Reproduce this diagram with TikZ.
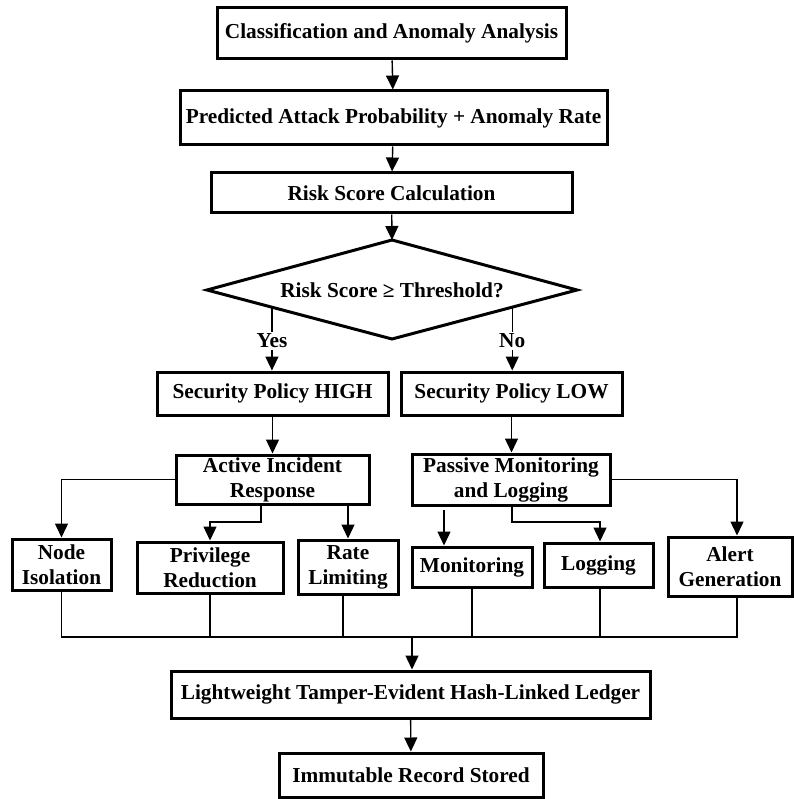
\documentclass[tikz,border=0pt]{standalone}
\usepackage{fontspec}
\setmainfont{Liberation Serif}
\usetikzlibrary{arrows.meta,calc}
\begin{document}
\begin{tikzpicture}[x=1pt,y=-1pt,
  font=\fontsize{21.3}{25}\selectfont\bfseries,
  box/.style={draw, line width=3pt, align=center, inner sep=0pt},
  link/.style={line width=1.4pt},
  arr/.style={link, -{Triangle[length=14pt,width=13pt]}},
  lbl/.style={fill=white, inner sep=2pt}]
\useasboundingbox (0,0) rectangle (793,799);

% main chain
\node[box, minimum width=349, minimum height=51] (cls) at (391.5,33.5) {Classification and Anomaly Analysis};
\node[box, minimum width=427, minimum height=54] (pred) at (393.5,118) {Predicted Attack Probability + Anomaly Rate};
\node[box, minimum width=361, minimum height=40] (risk) at (391.5,193) {Risk Score Calculation};

% decision diamond
\coordinate (dT) at (392,240);
\coordinate (dR) at (577,290);
\coordinate (dB) at (392,339);
\coordinate (dL) at (207,290);
\draw[line width=3pt, line join=miter] (dT) -- (dR) -- (dB) -- (dL) -- cycle;
\node[align=center] (dec) at (392,290) {Risk Score ≥ Threshold?};
\coordinate (yesfrom) at ($(dL)!0.351!(dB)$);
\coordinate (nofrom) at ($(dR)!0.35!(dB)$);

% policies
\node[box, minimum width=231, minimum height=43] (high) at (272.5,393.5) {Security Policy HIGH};
\node[box, minimum width=221, minimum height=43] (low) at (511.5,393.5) {Security Policy LOW};

% responses
\node[box, minimum width=193, minimum height=49] (act) at (272.5,479.5) {Active Incident\\Response};
\node[box, minimum width=198, minimum height=51] (pas) at (511,479.5) {Passive Monitoring\\and Logging};

% actions
\node[box, minimum width=99, minimum height=51] (iso) at (61.5,564.5) {Node\\Isolation};
\node[box, minimum width=146, minimum height=51] (priv) at (210,567.5) {Privilege\\Reduction};
\node[box, minimum width=100, minimum height=54] (rate) at (348,567) {Rate\\Limiting};
\node[box, minimum width=120, minimum height=40] (mon) at (472,567) {Monitoring};
\node[box, minimum width=109, minimum height=44] (logg) at (598.5,565) {Logging};
\node[box, minimum width=124, minimum height=59] (alert) at (730,566.5) {Alert\\Generation};

% ledger
\node[box, minimum width=479, minimum height=47] (led) at (410.5,694.5) {Lightweight Tamper-Evident Hash-Linked Ledger};
\node[box, minimum width=264, minimum height=44] (imm) at (411,775) {Immutable Record Stored};

% helper points
\coordinate (pj) at (261,522);
\coordinate (lj) at (512,522);
\coordinate (monsrc) at (444,510);
\coordinate (bus) at (0,637);

% main chain connectors
\draw[arr] (cls) -- (pred);
\draw[arr] (pred) -- (risk);
\draw[arr] (risk) -- (dT);
\draw[arr] (yesfrom) -- node[lbl, pos=0.53] {Yes} (high.north -| yesfrom);
\draw[arr] (nofrom) -- node[lbl, pos=0.53] {No} (low.north -| nofrom);
\draw[arr] (high) -- (act);
\draw[arr] (low.south) -- (low.south |- pas.north);

% active branch
\draw[arr] (act.west) -| (iso.north);
\draw[arr] (act.south -| pj) -- (pj) -| (priv.north);
\draw[arr] (act.south -| rate.north) -- (rate.north);

% passive branch
\draw[arr] (monsrc) -- (mon.north -| monsrc);
\draw[arr] (pas.south -| lj) -- (lj) -| ([xshift=1.5]logg.north);
\draw[arr] (pas.east) -| ([xshift=7]alert.north);

% collecting bus
\draw[link] (iso.south) -- (iso.south |- bus) -- ([xshift=7]alert.south |- bus) -- ([xshift=7]alert.south);
\draw[link] (priv.south) -- (priv.south |- bus);
\draw[link] ([xshift=-5]rate.south) -- ([xshift=-5]rate.south |- bus);
\draw[link] (mon.south) -- (mon.south |- bus);
\draw[link] ([xshift=1.5]logg.south) -- ([xshift=1.5]logg.south |- bus);
\draw[arr] ([xshift=1.5]led.north |- bus) -- ([xshift=1.5]led.north);
\draw[arr] (led) -- (imm);
\end{tikzpicture}
\end{document}
